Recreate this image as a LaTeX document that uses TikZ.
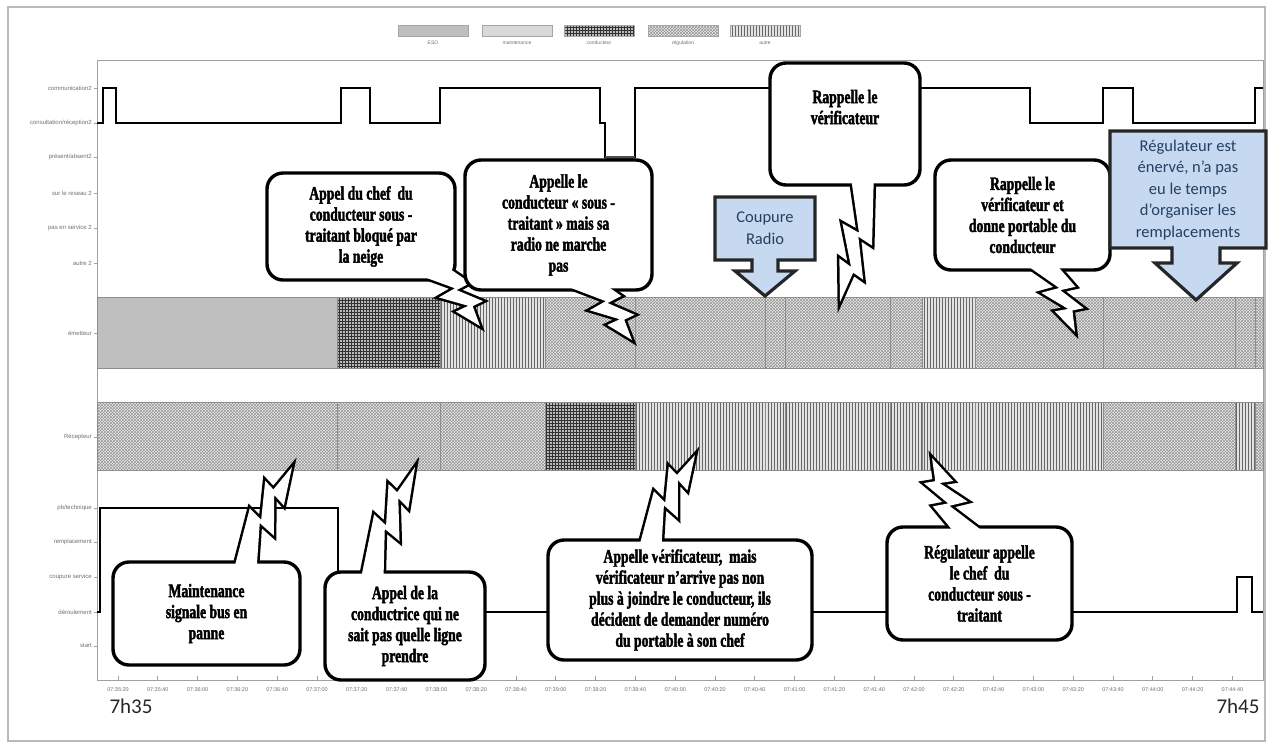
\documentclass[tikz,border=0pt]{standalone}
\usepackage{fontspec}
\setmainfont{Liberation Sans}
\newfontfamily\bubfont{Liberation Serif}[FakeStretch=0.72,FakeBold=2]
\newfontfamily\calib{Carlito}
\usetikzlibrary{calc,patterns}
\definecolor{bluefill}{HTML}{C6D9F1}
\definecolor{bluetext}{HTML}{243F60}
\definecolor{axisgray}{HTML}{A0A0A0}
\definecolor{labgray}{HTML}{6E6E6E}
\newcommand\boltshape[3]{%
  \path[#3] ($(#1)!-12pt!90:(#2)$)
    -- ($(#1)!0.45!(#2)!7pt!90:(#2)$)
    -- ($(#1)!0.40!(#2)!-11pt!90:(#2)$)
    -- ($(#1)!0.72!(#2)!5pt!90:(#2)$)
    -- ($(#1)!0.67!(#2)!-8pt!90:(#2)$)
    -- (#2)
    -- ($(#1)!0.76!(#2)!8pt!90:(#2)$)
    -- ($(#1)!0.80!(#2)!19pt!90:(#2)$)
    -- ($(#1)!0.48!(#2)!7pt!90:(#2)$)
    -- ($(#1)!0.53!(#2)!22pt!90:(#2)$)
    -- ($(#1)!12pt!90:(#2)$)
    -- cycle;}
\newcommand\bolt[2]{\boltshape{#1}{#2}{boltline}}
\newcommand\boltfill[2]{\boltshape{#1}{#2}{fill=white}}
\tikzset{
  eso/.style={fill=gray!50},
  maint/.style={fill=gray!30},
  cond/.style={preaction={fill=gray!55}, pattern=grid, pattern color=black!80},
  regu/.style={preaction={fill=gray!15}, pattern=crosshatch, pattern color=black!42},
  autr/.style={preaction={fill=gray!22}, pattern=vertical lines, pattern color=black!60},
  sep/.style={draw=black!45, line width=0.8pt},
  axis/.style={draw=axisgray, line width=0.7pt},
  sig/.style={draw=black, line width=1.4pt},
  lvl/.style={font=\fontsize{6}{7}\selectfont, text=labgray, anchor=east, inner sep=1pt},
  ticklab/.style={font=\fontsize{5.5}{6}\selectfont, text=labgray, inner sep=1pt},
  leglab/.style={font=\fontsize{5}{6}\selectfont, text=labgray, inner sep=1pt},
  bub/.style={draw=black, line width=3.4pt, rounded corners=16pt, fill=white, align=center,
    font={\bubfont\bfseries\fontsize{19}{21}\selectfont}, inner sep=3pt},
  boltline/.style={draw=black, line width=5pt, fill=white, line join=miter},
  bluebox/.style={draw=black!85, line width=3.2pt, fill=bluefill, line join=miter},
  bluetxt/.style={align=center, text=bluetext, font={\calib\fontsize{16.5}{21.5}\selectfont}, inner sep=0pt},
  bigtime/.style={font={\calib\fontsize{21}{24}\selectfont}, text=black!85, inner sep=0pt}
}
\begin{document}
\begin{tikzpicture}[x=1pt,y=-1pt]
\useasboundingbox (0,0) rectangle (1271,747);
% outer frame
\draw[gray!55, line width=2.2pt] (8,7) rectangle (1265,741);
% legend
\foreach \a/\s/\t [count=\k] in {398/eso/ESO, 482/maint/maintenance, 564/cond/conducteur, 648/regu/régulation, 730/autr/autre} {
  \path[style=\s, draw=gray!70, line width=0.8pt] (\a,25) rectangle ++(70,11);
  \node[leglab] (lg\k) at (\a+35,43) {\t};
}
% plot frame
\draw[axis] (97,60) -- (1263,60) -- (1263,680) -- (97,680) -- cycle;
% left level labels and ticks
\node[lvl] (l1) at (93,88) {communication2};
\node[lvl] (l2) at (93,123) {consultation/réception2};
\node[lvl] (l3) at (93,157) {présent/absent2};
\node[lvl] (l4) at (93,193) {sur le reseau 2};
\node[lvl] (l5) at (93,228) {pas en service 2};
\node[lvl] (l6) at (93,263) {autre 2};
\node[lvl] (l7) at (93,333) {émetteur};
\node[lvl] (l8) at (93,437) {Récepteur};
\node[lvl] (l9) at (93,508) {pb/technique};
\node[lvl] (l10) at (93,542) {remplacement};
\node[lvl] (l11) at (93,577) {coupure service};
\node[lvl] (l12) at (93,612) {déroulement};
\node[lvl] (l13) at (93,646) {start};
\foreach \y in {88,123,157,193,228,263,333,437,508,542,577,612,646}
  \draw[axis] (94,\y) -- (97,\y);
% bars
\foreach \a/\b/\s in {97/337/eso,337/440/cond,440/545/autr,545/635/regu,635/765/regu,765/785/regu,785/890/regu,890/922/regu,922/975/autr,975/1103/regu,1103/1235/regu,1235/1255/regu,1255/1263/regu}
  \path[style=\s] (\a,297) rectangle (\b,368);
\foreach \a/\b/\s in {97/337/regu,337/440/regu,440/545/regu,545/635/cond,635/765/autr,765/785/autr,785/890/autr,890/922/autr,922/975/autr,975/1103/autr,1103/1235/regu,1235/1255/autr,1255/1263/regu}
  \path[style=\s] (\a,402) rectangle (\b,470);
\foreach \x in {337,440,545,635,765,785,890,922,975,1103,1235,1255}
  \draw[sep] (\x,297) -- (\x,368) (\x,402) -- (\x,470);
\draw[sep] (97,297) rectangle (1263,368);
\draw[sep] (97,402) rectangle (1263,470);
% signals
\draw[sig] (97,123) -- (103,123) -- (103,88) -- (116,88) -- (116,123) -- (341,123) -- (341,88) -- (370,88) -- (370,123) -- (440,123) -- (440,88) -- (600,88) -- (600,123) -- (605,123) -- (605,157) -- (635,157) -- (635,88) -- (1030,88) -- (1030,123) -- (1103,123) -- (1103,88) -- (1133,88) -- (1133,123) -- (1255,123) -- (1255,88) -- (1263,88);
\draw[black!70, line width=3pt] (605,157) -- (635,157);
\draw[sig] (97,612) -- (100,612) -- (100,508) -- (338,508) -- (338,612) -- (1237,612) -- (1237,577) -- (1252,577) -- (1252,612) -- (1263,612);
% x axis ticks and labels
\foreach \i in {0,...,28} {
  \pgfmathsetmacro\xx{118+39.8*\i}
  \pgfmathtruncatemacro\tot{2120+20*\i}
  \pgfmathtruncatemacro\mm{floor(\tot/60)}
  \pgfmathtruncatemacro\ssv{\tot-60*\mm}
  \draw[axis] (\xx,680) -- (\xx,676);
  \node[ticklab] (tk\i) at (\xx,690) {07:\mm:\ifnum\ssv<10 0\fi\ssv};
}
\node[bigtime] (t35) at (131,706) {7h35};
\node[bigtime] (t45) at (1238,706) {7h45};
% callout coordinates
\coordinate (b1) at (425,266); \coordinate (p1) at (480,326);
\coordinate (b2) at (575,278); \coordinate (p2) at (632,340);
\coordinate (b3) at (862,174); \coordinate (p3) at (840,302);
\coordinate (b4) at (1035,258); \coordinate (p4) at (1075,332);
\coordinate (b5) at (245,574); \coordinate (p5) at (292,467);
\coordinate (b6) at (372,584); \coordinate (p6) at (415,467);
\coordinate (b7) at (650,552); \coordinate (p7) at (695,455);
\coordinate (b8) at (975,539); \coordinate (p8) at (932,458);
% bubbles
\bolt{b1}{p1}
\node[bub, minimum width=188, minimum height=107] (c1) at (361,226.5) {Appel du chef \ du\\conducteur sous -\\traitant bloqué par\\la neige};
\boltfill{b1}{p1}
\bolt{b2}{p2}
\node[bub, minimum width=187, minimum height=130] (c2) at (558.5,225) {Appelle le\\conducteur «~sous -\\traitant~» mais sa\\radio ne marche\\pas};
\boltfill{b2}{p2}
\bolt{b3}{p3}
\node[bub, minimum width=150, minimum height=122, text depth=34pt] (c3) at (845,124) {Rappelle le\\vérificateur};
\boltfill{b3}{p3}
\bolt{b4}{p4}
\node[bub, minimum width=175, minimum height=110] (c4) at (1022.5,215) {Rappelle le\\vérificateur et\\donne portable du\\conducteur};
\boltfill{b4}{p4}
\bolt{b5}{p5}
\node[bub, minimum width=187, minimum height=103] (c5) at (206.5,613.5) {Maintenance\\signale bus en\\panne};
\boltfill{b5}{p5}
\bolt{b6}{p6}
\node[bub, minimum width=160, minimum height=108] (c6) at (405,626) {Appel de la\\conductrice qui ne\\sait pas quelle ligne\\prendre};
\boltfill{b6}{p6}
\bolt{b7}{p7}
\node[bub, minimum width=264, minimum height=120] (c7) at (680,600) {Appelle vérificateur, \ mais\\vérificateur n’arrive pas non\\plus à joindre le conducteur, ils\\décident de demander numéro\\du portable à son chef};
\boltfill{b7}{p7}
\bolt{b8}{p8}
\node[bub, minimum width=185, minimum height=113] (c8) at (979.5,583.5) {Régulateur appelle\\le chef \ du\\conducteur sous -\\traitant};
\boltfill{b8}{p8}
% blue arrow callouts
\filldraw[bluebox] (715,197) -- (815,197) -- (815,260) -- (778,260) -- (778,271) -- (795,271) -- (765,296) -- (735,271) -- (752,271) -- (752,260) -- (715,260) -- cycle;
\node[bluetxt] (r1) at (765,228) {Coupure\\Radio};
\filldraw[bluebox] (1110,131) -- (1266,131) -- (1266,248) -- (1220,248) -- (1220,263) -- (1237,263) -- (1196,300) -- (1155,263) -- (1172,263) -- (1172,248) -- (1110,248) -- cycle;
\node[bluetxt] (r2) at (1188,190) {Régulateur est\\énervé, n’a pas\\eu le temps\\d’organiser les\\remplacements};
\end{tikzpicture}
\end{document}
